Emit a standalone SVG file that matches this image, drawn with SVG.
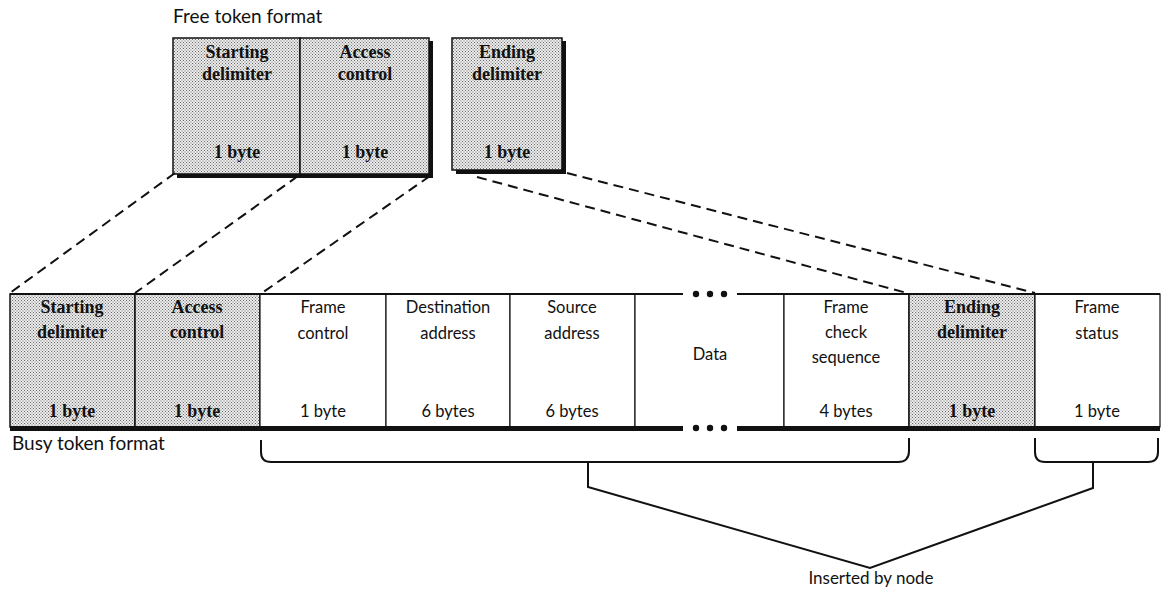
<svg xmlns="http://www.w3.org/2000/svg" width="1162" height="594" viewBox="0 0 1162 594">
<defs>
<pattern id="dots" width="3" height="3" patternUnits="userSpaceOnUse">
<rect width="3" height="3" fill="#ececec"/>
<rect x="0" y="0" width="1" height="1" fill="#6a6a6a"/>
<rect x="1.5" y="1.5" width="1" height="1" fill="#6a6a6a"/>
</pattern>
<style>
.shade{fill:url(#dots);stroke:#111;stroke-width:1.5}
.plain{fill:#fff;stroke:#111;stroke-width:1.2}
.div{stroke:#111;stroke-width:1.2;fill:none}
.bt{font-family:"Liberation Serif",serif;font-weight:bold;font-size:18px;fill:#111;text-anchor:middle}
.rt{font-family:"Lato","Liberation Sans",sans-serif;font-size:16.5px;fill:#111;text-anchor:middle}
.cap{font-family:"Lato","Liberation Sans",sans-serif;font-size:19px;fill:#111}
.dash{stroke:#111;stroke-width:2;fill:none;stroke-dasharray:10 6}
.brace{stroke:#111;stroke-width:2;fill:none}
.shadow{fill:#111}
</style>
</defs>
<rect width="1162" height="594" fill="#fff"/>

<text class="cap" x="173" y="23">Free token format</text>
<text class="cap" x="12" y="450">Busy token format</text>

<g id="free-token">
<rect class="shadow" x="177" y="172" width="256" height="6"/>
<rect class="shadow" x="428" y="41" width="5" height="137"/>
<g id="free-sd">
<rect class="shade" x="173" y="38" width="127" height="136"/>
<text class="bt" x="237" y="58">Starting</text>
<text class="bt" x="237" y="80">delimiter</text>
<text class="bt" x="237" y="158">1 byte</text>
</g>
<g id="free-ac">
<rect class="shade" x="300" y="38" width="129" height="136"/>
<text class="bt" x="365" y="58">Access</text>
<text class="bt" x="365" y="80">control</text>
<text class="bt" x="365" y="158">1 byte</text>
</g>
</g>

<g id="free-ed">
<rect class="shadow" x="456" y="168" width="110" height="6"/>
<rect class="shadow" x="560" y="41" width="6" height="133"/>
<rect class="shade" x="452" y="38" width="110" height="132"/>
<text class="bt" x="507" y="58">Ending</text>
<text class="bt" x="507" y="80">delimiter</text>
<text class="bt" x="507" y="158">1 byte</text>
</g>

<g id="busy-token">
<g id="busy-sd">
<rect class="shade" x="10" y="294" width="125" height="133"/>
<text class="bt" x="72" y="313">Starting</text>
<text class="bt" x="72" y="338">delimiter</text>
<text class="bt" x="72" y="417">1 byte</text>
</g>
<g id="busy-ac">
<rect class="shade" x="135" y="294" width="125" height="133"/>
<text class="bt" x="197" y="313">Access</text>
<text class="bt" x="197" y="338">control</text>
<text class="bt" x="197" y="417">1 byte</text>
</g>
<g id="busy-fc">
<rect class="plain" x="260" y="294" width="126" height="133"/>
<text class="rt" x="323" y="313">Frame</text>
<text class="rt" x="323" y="339">control</text>
<text class="rt" x="323" y="417">1 byte</text>
</g>
<g id="busy-da">
<rect class="plain" x="386" y="294" width="124" height="133"/>
<text class="rt" x="448" y="313">Destination</text>
<text class="rt" x="448" y="339">address</text>
<text class="rt" x="448" y="417">6 bytes</text>
</g>
<g id="busy-sa">
<rect class="plain" x="510" y="294" width="125" height="133"/>
<text class="rt" x="572" y="313">Source</text>
<text class="rt" x="572" y="339">address</text>
<text class="rt" x="572" y="417">6 bytes</text>
</g>
<g id="busy-data">
<rect x="635" y="294" width="149" height="133" fill="#fff"/>
<line class="div" x1="635" y1="294" x2="635" y2="427"/>
<line class="div" x1="784" y1="294" x2="784" y2="427"/>
<circle cx="696" cy="294" r="3.2" fill="#111"/>
<circle cx="710" cy="294" r="3.2" fill="#111"/>
<circle cx="724" cy="294" r="3.2" fill="#111"/>
<text class="rt" x="710" y="360">Data</text>
</g>
<g id="busy-fcs">
<rect class="plain" x="784" y="294" width="125" height="133"/>
<text class="rt" x="846" y="313">Frame</text>
<text class="rt" x="846" y="338">check</text>
<text class="rt" x="846" y="363">sequence</text>
<text class="rt" x="846" y="417">4 bytes</text>
</g>
<g id="busy-ed">
<rect class="shade" x="909" y="294" width="126" height="133"/>
<text class="bt" x="972" y="313">Ending</text>
<text class="bt" x="972" y="338">delimiter</text>
<text class="bt" x="972" y="417">1 byte</text>
</g>
<g id="busy-fs">
<rect class="plain" x="1035" y="294" width="125" height="133"/>
<text class="rt" x="1097" y="313">Frame</text>
<text class="rt" x="1097" y="339">status</text>
<text class="rt" x="1097" y="417">1 byte</text>
</g>
<line x1="10" y1="294" x2="683" y2="294" stroke="#111" stroke-width="2"/>
<line x1="737" y1="294" x2="1160" y2="294" stroke="#111" stroke-width="2"/>
<rect x="10" y="426" width="673" height="5" fill="#111"/>
<rect x="737" y="426" width="423" height="5" fill="#111"/>
<circle cx="696" cy="428" r="3.2" fill="#111"/>
<circle cx="710" cy="428" r="3.2" fill="#111"/>
<circle cx="724" cy="428" r="3.2" fill="#111"/>
</g>

<g id="connectors">
<line class="dash" x1="175" y1="173" x2="10" y2="293"/>
<line class="dash" x1="298" y1="176" x2="135" y2="293"/>
<line class="dash" x1="430" y1="176" x2="262" y2="293"/>
<line class="dash" x1="477" y1="177" x2="907" y2="293"/>
<line class="dash" x1="567" y1="173" x2="1035" y2="293"/>
<path class="brace" d="M261 440 V452 Q261 462 271 462 H898 Q909 462 909 451 V438"/>
<path class="brace" d="M1035 438 V452 Q1035 462 1045 462 H1148 Q1158 462 1158 452 V438"/>
<path class="brace" d="M588 462 V487 L870 568 L1093 488 V462"/>
</g>
<text class="rt" x="871" y="584" style="font-size:17px">Inserted by node</text>
</svg>
